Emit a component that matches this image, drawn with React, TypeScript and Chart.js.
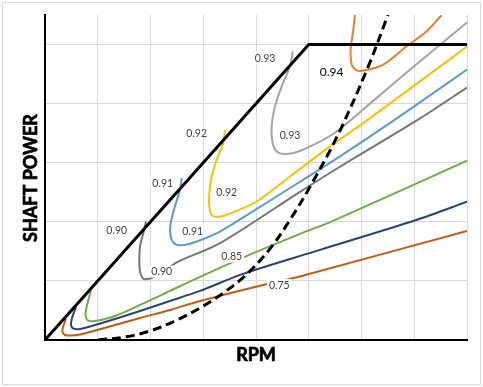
import React, { useEffect, useRef } from "react";
import { Chart, registerables } from "chart.js";

Chart.register(...registerables);

// ---- axis ranges ----
const X_MIN = 0;
const X_MAX = 8;
const Y_MIN = 0;
const Y_MAX = 5.5;
const X_STEP = 1;
const Y_STEP = 1;

// ---- axis titles ----
const xTitle = "RPM";
const yTitle = "SHAFT POWER";

// ---- boundary lines [rpm, power] ----
const limitLine = [[0, 0], [5, 5], [8, 5]];
const propellerCurve = [
  [1.005, 0], [1.517, 0.051], [1.991, 0.153], [2.464, 0.322], [2.938, 0.542],
  [3.355, 0.78], [3.791, 1.085], [4.265, 1.542], [4.645, 2.034], [5.024, 2.593],
  [5.536, 3.441], [6.104, 4.576], [6.502, 5.5],
];

// ---- efficiency contours [rpm, power] ----
const eff075 = [
  [0.398, 0.356], [0.341, 0.22], [0.332, 0.136], [0.379, 0.085], [0.474, 0.076],
  [0.664, 0.093], [0.853, 0.136], [1.327, 0.254], [1.801, 0.373], [2.37, 0.508],
  [2.938, 0.661], [4.133, 0.932], [4.777, 1.063], [8, 1.847],
];
const eff080 = [
  [0.588, 0.559], [0.512, 0.373], [0.493, 0.254], [0.536, 0.195], [0.664, 0.186],
  [0.853, 0.229], [1.327, 0.356], [1.801, 0.492], [2.37, 0.661], [2.938, 0.831],
  [3.754, 1.119], [5.213, 1.525], [7.052, 2.034], [8, 2.339],
];
const eff085 = [
  [0.872, 0.847], [0.777, 0.508], [0.772, 0.395], [0.821, 0.327], [0.948, 0.322],
  [1.327, 0.407], [1.801, 0.593], [2.37, 0.831], [2.938, 1.068], [3.829, 1.424],
  [4.834, 1.797], [5.46, 2.017], [8, 3.034],
];
const eff090 = [
  [1.915, 2.005], [1.864, 1.808], [1.801, 1.581], [1.788, 1.356], [1.801, 1.158],
  [1.852, 1.046], [1.896, 1.029], [2.028, 1.051], [2.275, 1.186], [2.527, 1.327],
  [3.318, 1.639], [4.834, 2.508], [5.592, 2.932], [7.071, 3.729], [8, 4.271],
];
const eff091 = [
  [2.592, 2.741], [2.559, 2.542], [2.483, 2.317], [2.402, 2.063], [2.37, 1.864],
  [2.402, 1.695], [2.497, 1.61], [2.654, 1.61], [2.876, 1.666], [3.318, 1.836],
  [3.886, 2.147], [4.834, 2.678], [5.592, 3.107], [6.635, 3.729], [8, 4.576],
];
const eff092 = [
  [3.412, 3.547], [3.38, 3.334], [3.255, 3.051], [3.16, 2.768], [3.115, 2.486],
  [3.115, 2.259], [3.16, 2.119], [3.255, 2.08], [3.445, 2.119], [4.013, 2.344],
  [4.645, 2.768], [5.403, 3.276], [6.123, 3.729], [8, 4.966],
];
const eff093 = [
  [4.696, 4.886], [4.645, 4.632], [4.487, 4.293], [4.36, 3.954], [4.297, 3.615],
  [4.316, 3.334], [4.398, 3.186], [4.588, 3.147], [4.891, 3.22], [5.498, 3.508],
  [6.161, 4.0], [7.014, 4.644], [8, 5.373],
];
const eff094 = [
  [5.877, 5.5], [5.845, 5.254], [5.795, 4.915], [5.814, 4.661], [5.909, 4.564],
  [6.066, 4.564], [6.413, 4.661], [6.857, 4.971], [7.236, 5.225], [7.52, 5.5],
];

// ---- contour labels ----
const labelText = ["0.93", "0.94", "0.92", "0.93", "0.91", "0.92", "0.90", "0.91", "0.90", "0.85", "0.75"];
const labelX = [4.171, 5.434, 2.875, 4.645, 2.231, 3.445, 1.359, 2.8, 2.212, 3.539, 4.442];
const labelY = [4.775, 4.548, 3.503, 3.475, 2.656, 2.497, 1.864, 1.847, 1.158, 1.412, 0.932];

const toXY = (arr: number[][]) => arr.map(([x, y]) => ({ x, y }));

const contour = (data: number[][], color: string) => ({
  data: toXY(data),
  showLine: true,
  borderColor: color,
  backgroundColor: color,
  borderWidth: 2,
  pointRadius: 0,
  tension: 0.3,
  fill: false,
});

const labelPlugin = {
  id: "contourLabels",
  afterDatasetsDraw(chart: any) {
    const { ctx, scales } = chart;
    ctx.save();
    labelText.forEach((t, i) => {
      const px = scales.x.getPixelForValue(labelX[i]);
      const py = scales.y.getPixelForValue(labelY[i]);
      const big = t === "0.94";
      ctx.font = `${big ? 12 : 10.5}px Lato`;
      const w = ctx.measureText(t).width + 4;
      const h = big ? 13 : 12;
      ctx.fillStyle = "#ffffff";
      ctx.fillRect(px - w / 2, py - h / 2, w, h);
      ctx.fillStyle = big ? "#000000" : "#404040";
      ctx.textAlign = "center";
      ctx.textBaseline = "middle";
      ctx.fillText(t, px, py + 0.5);
    });
    ctx.restore();
  },
};

const framePlugin = {
  id: "frame",
  beforeDraw(chart: any) {
    const { ctx, width, height } = chart;
    ctx.save();
    ctx.fillStyle = "#ffffff";
    ctx.fillRect(0, 0, width, height);
    ctx.strokeStyle = "#d9d9d9";
    ctx.lineWidth = 1;
    ctx.strokeRect(2.5, 2.5, width - 5, height - 5);
    ctx.restore();
  },
  afterDraw(chart: any) {
    const { ctx, chartArea } = chart;
    ctx.save();
    ctx.fillStyle = "#000000";
    ctx.strokeStyle = "#000000";
    ctx.lineWidth = 0.7;
    ctx.font = "bold 18px Lato";
    ctx.textAlign = "center";
    ctx.textBaseline = "middle";
    const cx = (chartArea.left + chartArea.right) / 2;
    ctx.fillText(xTitle, cx, 355);
    ctx.strokeText(xTitle, cx, 355);
    ctx.translate(31, 178);
    ctx.rotate(-Math.PI / 2);
    ctx.fillText(yTitle, 0, 0);
    ctx.strokeText(yTitle, 0, 0);
    ctx.restore();
  },
};

export default function App() {
  const ref = useRef<HTMLCanvasElement>(null);
  useEffect(() => {
    const chart = new Chart(ref.current as HTMLCanvasElement, {
      type: "scatter",
      data: {
        datasets: [
          {
            data: toXY(limitLine),
            showLine: true,
            borderColor: "#000000",
            borderWidth: 3,
            pointRadius: 0,
            tension: 0,
          },
          {
            data: toXY(propellerCurve),
            showLine: true,
            borderColor: "#000000",
            borderWidth: 3,
            borderDash: [9, 5],
            pointRadius: 0,
            tension: 0.35,
          },
          contour(eff094, "#ED7D31"),
          contour(eff093, "#A5A5A5"),
          contour(eff092, "#FFC000"),
          contour(eff091, "#5B9BD5"),
          contour(eff090, "#767676"),
          contour(eff085, "#70AD47"),
          contour(eff080, "#264478"),
          contour(eff075, "#C55A11"),
        ] as any,
      },
      options: {
        animation: false,
        responsive: false,
        devicePixelRatio: 1,
        layout: { padding: { left: 45, top: 15, right: 16, bottom: 47 } },
        plugins: { legend: { display: false }, tooltip: { enabled: false } },
        scales: {
          x: {
            type: "linear",
            min: X_MIN,
            max: X_MAX,
            ticks: { display: false, stepSize: X_STEP },
            grid: { color: "#d9d9d9", lineWidth: 1, drawTicks: false },
            border: { display: true, color: "#000000", width: 2 },
            afterFit: (s: any) => { s.height = 0; },
          },
          y: {
            type: "linear",
            min: Y_MIN,
            max: Y_MAX,
            ticks: { display: false, stepSize: Y_STEP, includeBounds: false },
            grid: { color: "#d9d9d9", lineWidth: 1, drawTicks: false },
            border: { display: true, color: "#000000", width: 2 },
            afterFit: (s: any) => { s.width = 0; },
          },
        },
      } as any,
      plugins: [labelPlugin, framePlugin],
    });
    return () => chart.destroy();
  }, []);
  return (
    <div style={{ position: "fixed", left: 0, top: 0, width: 483, height: 387, background: "#fff" }}>
      <canvas ref={ref} width={483} height={387} style={{ display: "block", width: 483, height: 387 }} />
    </div>
  );
}
